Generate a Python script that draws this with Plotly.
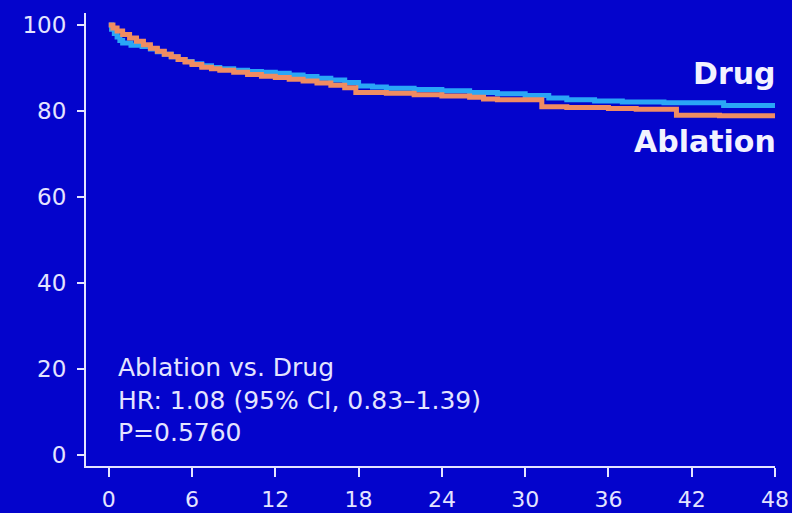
import plotly.graph_objects as go

# Kaplan-Meier style freedom-from-event curves (months vs. percent)
drug_t = [0, 0.2, 0.4, 0.6, 0.8, 1.0, 1.6, 2.4, 3, 3.5, 4, 4.5, 5, 5.5, 6, 6.7, 7.4, 8, 9, 10,
          11, 12, 13, 14, 15, 16, 17, 18, 19, 20, 22, 24, 26, 28, 30, 31.7, 33, 35, 37, 40,
          44.3, 48]
drug_s = [100, 99, 98, 97.2, 96.4, 95.8, 95.3, 95, 94.4, 93.8, 93.2, 92.6, 92, 91.5, 91,
          90.5, 90.1, 89.8, 89.5, 89.2, 89, 88.8, 88.4, 88, 87.6, 87.2, 86.6, 85.8, 85.6,
          85.3, 85, 84.7, 84.3, 84, 83.6, 83, 82.6, 82.3, 82.1, 81.9, 81.3, 81.3]

abl_t = [0, 0.3, 0.6, 1, 1.5, 2, 2.5, 3, 3.5, 4, 4.5, 5, 5.5, 6, 6.7, 7.4, 8, 9, 10, 11, 12,
         13, 14, 15, 16, 17, 17.8, 20, 22, 24, 26, 27, 28, 31.2, 33, 36, 38, 40.9, 44, 48]
abl_s = [100, 99.3, 98.6, 97.8, 97, 96.2, 95.4, 94.6, 93.9, 93.2, 92.6, 92, 91.4, 90.8,
         90.2, 89.8, 89.5, 89, 88.5, 88.1, 87.8, 87.4, 87, 86.5, 86, 85.4, 84.3, 84.1, 83.8,
         83.5, 83.2, 82.8, 82.6, 81, 80.8, 80.6, 80.4, 79, 78.9, 78.9]

x_ticks = [0, 6, 12, 18, 24, 30, 36, 42, 48]
y_ticks = [0, 20, 40, 60, 80, 100]

stats_lines = ["Ablation vs. Drug", "HR: 1.08 (95% CI, 0.83\u20131.39)", "P=0.5760"]

BG = "rgb(4,4,204)"
FG = "#e4e4ff"
FONT = "DejaVu Sans"

fig = go.Figure()
fig.add_trace(go.Scatter(x=drug_t, y=drug_s, mode="lines", line_shape="hv",
                         line=dict(color="#2aa6f6", width=5), name="Drug"))
fig.add_trace(go.Scatter(x=abl_t, y=abl_s, mode="lines", line_shape="hv",
                         line=dict(color="#f08c62", width=5), name="Ablation"))

# curve labels at the right end of the plot
fig.add_annotation(xref="paper", x=1.0, xshift=3, y=drug_s[-1] + 7.5,
                   text="<b>Drug</b>", showarrow=False, xanchor="right", yanchor="middle",
                   font=dict(family=FONT, size=30, color="#f2f2ff"))
fig.add_annotation(xref="paper", x=1.0, xshift=3, y=abl_s[-1] - 6.0,
                   text="<b>Ablation</b>", showarrow=False, xanchor="right", yanchor="middle",
                   font=dict(family=FONT, size=30, color="#f2f2ff"))

# hazard-ratio summary block
fig.add_annotation(x=0.55, y=12.8, text="<br>".join(stats_lines), showarrow=False,
                   xanchor="left", yanchor="middle", align="left",
                   font=dict(family=FONT, size=25, color=FG))

axis_common = dict(showgrid=False, zeroline=False, showline=True, linecolor=FG,
                   linewidth=2, ticks="outside", tickcolor=FG, tickwidth=2,
                   automargin=False)

fig.update_xaxes(range=[-1.64, 48.0], tickvals=x_ticks, ticklen=9,
                 ticklabelstandoff=4, tickfont=dict(family=FONT, size=22, color=FG),
                 **axis_common)
fig.update_yaxes(range=[-2.56, 102.79], tickvals=y_ticks, ticklen=7,
                 ticklabelstandoff=6, tickfont=dict(family=FONT, size=23, color=FG),
                 **axis_common)

fig.update_layout(width=792, height=513, showlegend=False,
                  paper_bgcolor=BG, plot_bgcolor=BG,
                  margin=dict(l=86, r=17, t=13, b=47))

fig.write_html("out.html")
